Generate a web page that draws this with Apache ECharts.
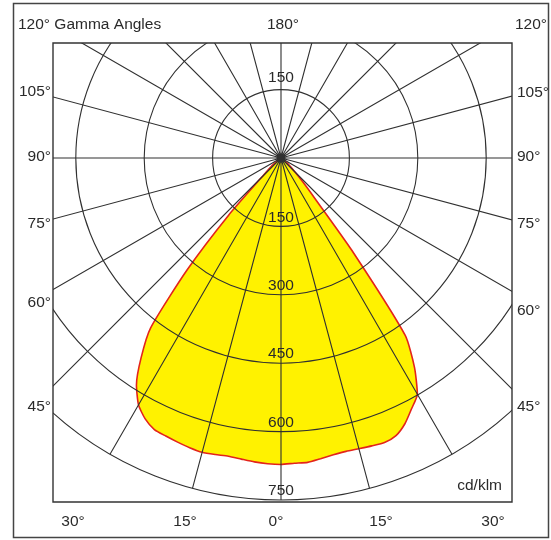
<!DOCTYPE html>
<html>
<head>
<meta charset="utf-8">
<script src="https://cdn.jsdelivr.net/npm/echarts@6/dist/echarts.min.js"></script>
<style>
  html, body { margin: 0; padding: 0; background: #fff; }
  #chart { width: 551px; height: 540px; }
</style>
</head>
<body>
<div id="chart"></div>
<script>
// gamma angles (deg from nadir) and intensities in cd/klm
const gamma = [0, 2.5, 5, 7.5, 10, 12.5, 15, 17.5, 20, 22.5, 25, 27.5, 30, 32.5, 35, 37.5, 40, 42.5, 45, 50, 55, 60, 70, 80, 90]
const leftCd = [672, 671, 669, 666, 664, 666, 668, 666, 663, 660, 657, 645, 625, 590, 535, 470, 320, 170, 60, 25, 10, 5, 0, 0, 0]
const rightCd = [671, 670, 670, 665, 661, 659, 660, 662, 664, 659, 643, 620, 598, 545, 475, 255, 115, 70, 44, 20, 8, 3, 0, 0, 0]

const radiusTicks = [150, 300, 450, 600, 750]
const unitLabel = 'cd/klm'

// labels round the frame
const topLabels = [
  { text: '120° Gamma Angles', x: 18, y: 25, align: 'left' },
  { text: '180°', x: 283, y: 25, align: 'center' },
  { text: '120°', x: 515, y: 25, align: 'left' }
]
const leftLabels = [['105°', 92], ['90°', 157], ['75°', 224], ['60°', 303], ['45°', 407]]
const rightLabels = [['105°', 93], ['90°', 157], ['75°', 224], ['60°', 311], ['45°', 407]]
const bottomLabels = [['30°', 73], ['15°', 185], ['0°', 276], ['15°', 381], ['30°', 493]]

const FONT = "'Liberation Sans', Arial, sans-serif"
const FS = 15.5
const TXT = '#2a2a2a'
const GRID = '#303030'

// polar points: [radius, angle]; angle runs clockwise from nadir
const curve = []
for (let i = gamma.length - 1; i >= 0; i--) curve.push([leftCd[i], gamma[i]])
for (let i = 1; i < gamma.length; i++) curve.push([rightCd[i], 360 - gamma[i]])

const box = { x: 53, y: 43, w: 459, h: 459 }

const txt = (text, x, y, align) => ({
  type: 'text', z: 120, x, y,
  style: { text, fill: TXT, font: FS + 'px ' + FONT, align, verticalAlign: 'middle' }
})

const graphics = [
  // white masks clip the polar grid to the inner frame
  { type: 'rect', z: 100, shape: { x: 0, y: 0, width: 551, height: box.y }, style: { fill: '#fff' } },
  { type: 'rect', z: 100, shape: { x: 0, y: box.y + box.h, width: 551, height: 540 - box.y - box.h }, style: { fill: '#fff' } },
  { type: 'rect', z: 100, shape: { x: 0, y: 0, width: box.x, height: 540 }, style: { fill: '#fff' } },
  { type: 'rect', z: 100, shape: { x: box.x + box.w, y: 0, width: 551 - box.x - box.w, height: 540 }, style: { fill: '#fff' } },
  { type: 'rect', z: 110, shape: { x: box.x, y: box.y, width: box.w, height: box.h }, style: { fill: null, stroke: '#333', lineWidth: 1.4 } },
  { type: 'rect', z: 110, shape: { x: 13.5, y: 3.5, width: 535, height: 534 }, style: { fill: null, stroke: '#444', lineWidth: 1.5 } }
]
topLabels.forEach(l => graphics.push(txt(l.text, l.x, l.y, l.align)))
leftLabels.forEach(([t, y]) => graphics.push(txt(t, 51, y, 'right')))
rightLabels.forEach(([t, y]) => graphics.push(txt(t, 517, y, 'left')))
bottomLabels.forEach(([t, x]) => graphics.push(txt(t, x, 522, 'center')))
graphics.push(txt(unitLabel, 502, 486, 'right'))

const angleAxisBase = {
  type: 'value', min: 0, max: 360, interval: 15, clockwise: true, z: 10,
  axisLine: { show: false }, axisTick: { show: false }, axisLabel: { show: false }
}
const radiusAxisBase = {
  type: 'value', min: 0, max: 750, interval: 150, z: 10,
  axisLine: { show: false }, axisTick: { show: false }
}

const chart = echarts.init(document.getElementById('chart'), null, { renderer: 'canvas' })
chart.setOption({
  animation: false,
  backgroundColor: '#fff',
  polar: [
    { center: [281, 158], radius: 342 },
    { center: [281, 158], radius: 342 }
  ],
  angleAxis: [
    { ...angleAxisBase, polarIndex: 0, startAngle: 270,
      splitLine: { show: true, lineStyle: { color: GRID, width: 1.1 } } },
    { ...angleAxisBase, polarIndex: 1, startAngle: 90, splitLine: { show: false } }
  ],
  radiusAxis: [
    { ...radiusAxisBase, polarIndex: 0,
      splitLine: { show: true, lineStyle: { color: GRID, width: 1.1 } },
      axisLabel: {
        show: true, margin: 0, align: 'center', verticalAlign: 'bottom',
        padding: [0, 0, 1, 0], color: TXT, fontSize: FS, fontFamily: FONT,
        formatter: v => radiusTicks.includes(v) ? String(v) : ''
      } },
    { ...radiusAxisBase, polarIndex: 1, splitLine: { show: false },
      axisLabel: {
        show: true, margin: 0, align: 'center', verticalAlign: 'bottom',
        padding: [0, 0, 4, 0], color: TXT, fontSize: FS, fontFamily: FONT,
        formatter: v => v === radiusTicks[0] ? String(v) : ''
      } }
  ],
  series: [{
    type: 'line',
    coordinateSystem: 'polar',
    polarIndex: 0,
    data: curve,
    symbol: 'none',
    smooth: 0.2,
    z: 1,
    lineStyle: { color: '#e3241b', width: 1.6 },
    areaStyle: { color: '#fff200', opacity: 1 }
  }],
  graphic: { elements: graphics }
})
</script>
</body>
</html>
